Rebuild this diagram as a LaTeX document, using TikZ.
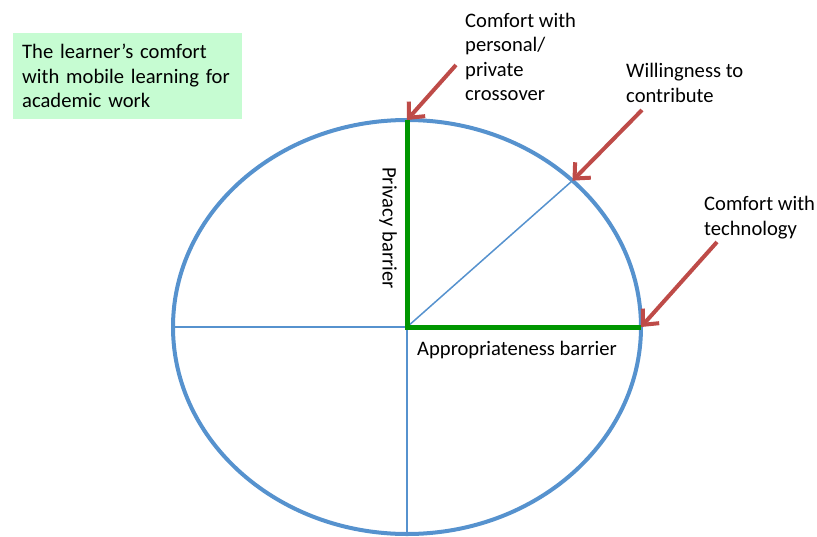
\documentclass[tikz,border=0pt]{standalone}
\usepackage{fontspec}
\setmainfont{Carlito}
\usetikzlibrary{arrows.meta}
\definecolor{ringblue}{RGB}{86,146,206}
\definecolor{barriergreen}{RGB}{0,150,0}
\definecolor{pointred}{RGB}{190,75,72}
\definecolor{notegreen}{RGB}{198,252,210}

\begin{document}
\begin{tikzpicture}[x=1pt,y=-1pt,
  label text/.style={anchor=north west,inner sep=0pt,align=left,font=\fontsize{20.6}{24.5}\selectfont},
  note box/.style={label text,fill=notegreen,inner xsep=9pt,inner ysep=11pt,text width=211pt},
  ring/.style={draw=ringblue,line width=4pt},
  spoke/.style={draw=ringblue,line width=1.5pt},
  barrier/.style={draw=barriergreen,line width=5pt},
  pointer/.style={draw=pointred,line width=4pt,-{Straight Barb[length=12pt,width=22pt]}}]

  \useasboundingbox (0,0) rectangle (817,536);

  \coordinate (centre) at (407,327);
  \coordinate (top) at (407,120);
  \coordinate (right) at (641,327);
  \coordinate (left) at (173,327);
  \coordinate (bottom) at (407,534);
  \coordinate (rim) at ([shift={(45:234pt and 207pt)}]centre);

  % ring, spokes and the two barriers
  \draw[spoke] (left) -- (centre) -- (bottom);
  \draw[spoke] (centre) -- (rim);
  \draw[ring] (centre) ellipse [x radius=234pt,y radius=207pt];
  \draw[barrier] (top) -- (centre) -- (right);

  \node[note box] (note) at (13,33) {The learner’s comfort\\with mobile learning for\\academic work};

  \node[label text] (crossover) at (465,12.5) {Comfort with\\personal/\\private\\crossover};
  \node[label text] (willing) at (626,63) {Willingness to\\contribute};
  \node[label text] (tech) at (704,196) {Comfort with\\technology};
  \node[label text,anchor=base west] (approp) at (417,355) {Appropriateness barrier};
  \node[label text,anchor=center,rotate=-90] (privacy) at (388,228) {Privacy barrier};

  \coordinate (crossover tail) at (456,65);
  \coordinate (willing tail) at (642,110);
  \coordinate (tech tail) at (717,242);

  \path
   (crossover tail) edge[pointer] (top)
   (willing tail) edge[pointer] (rim)
   (tech tail) edge[pointer] (right);
\end{tikzpicture}
\end{document}
